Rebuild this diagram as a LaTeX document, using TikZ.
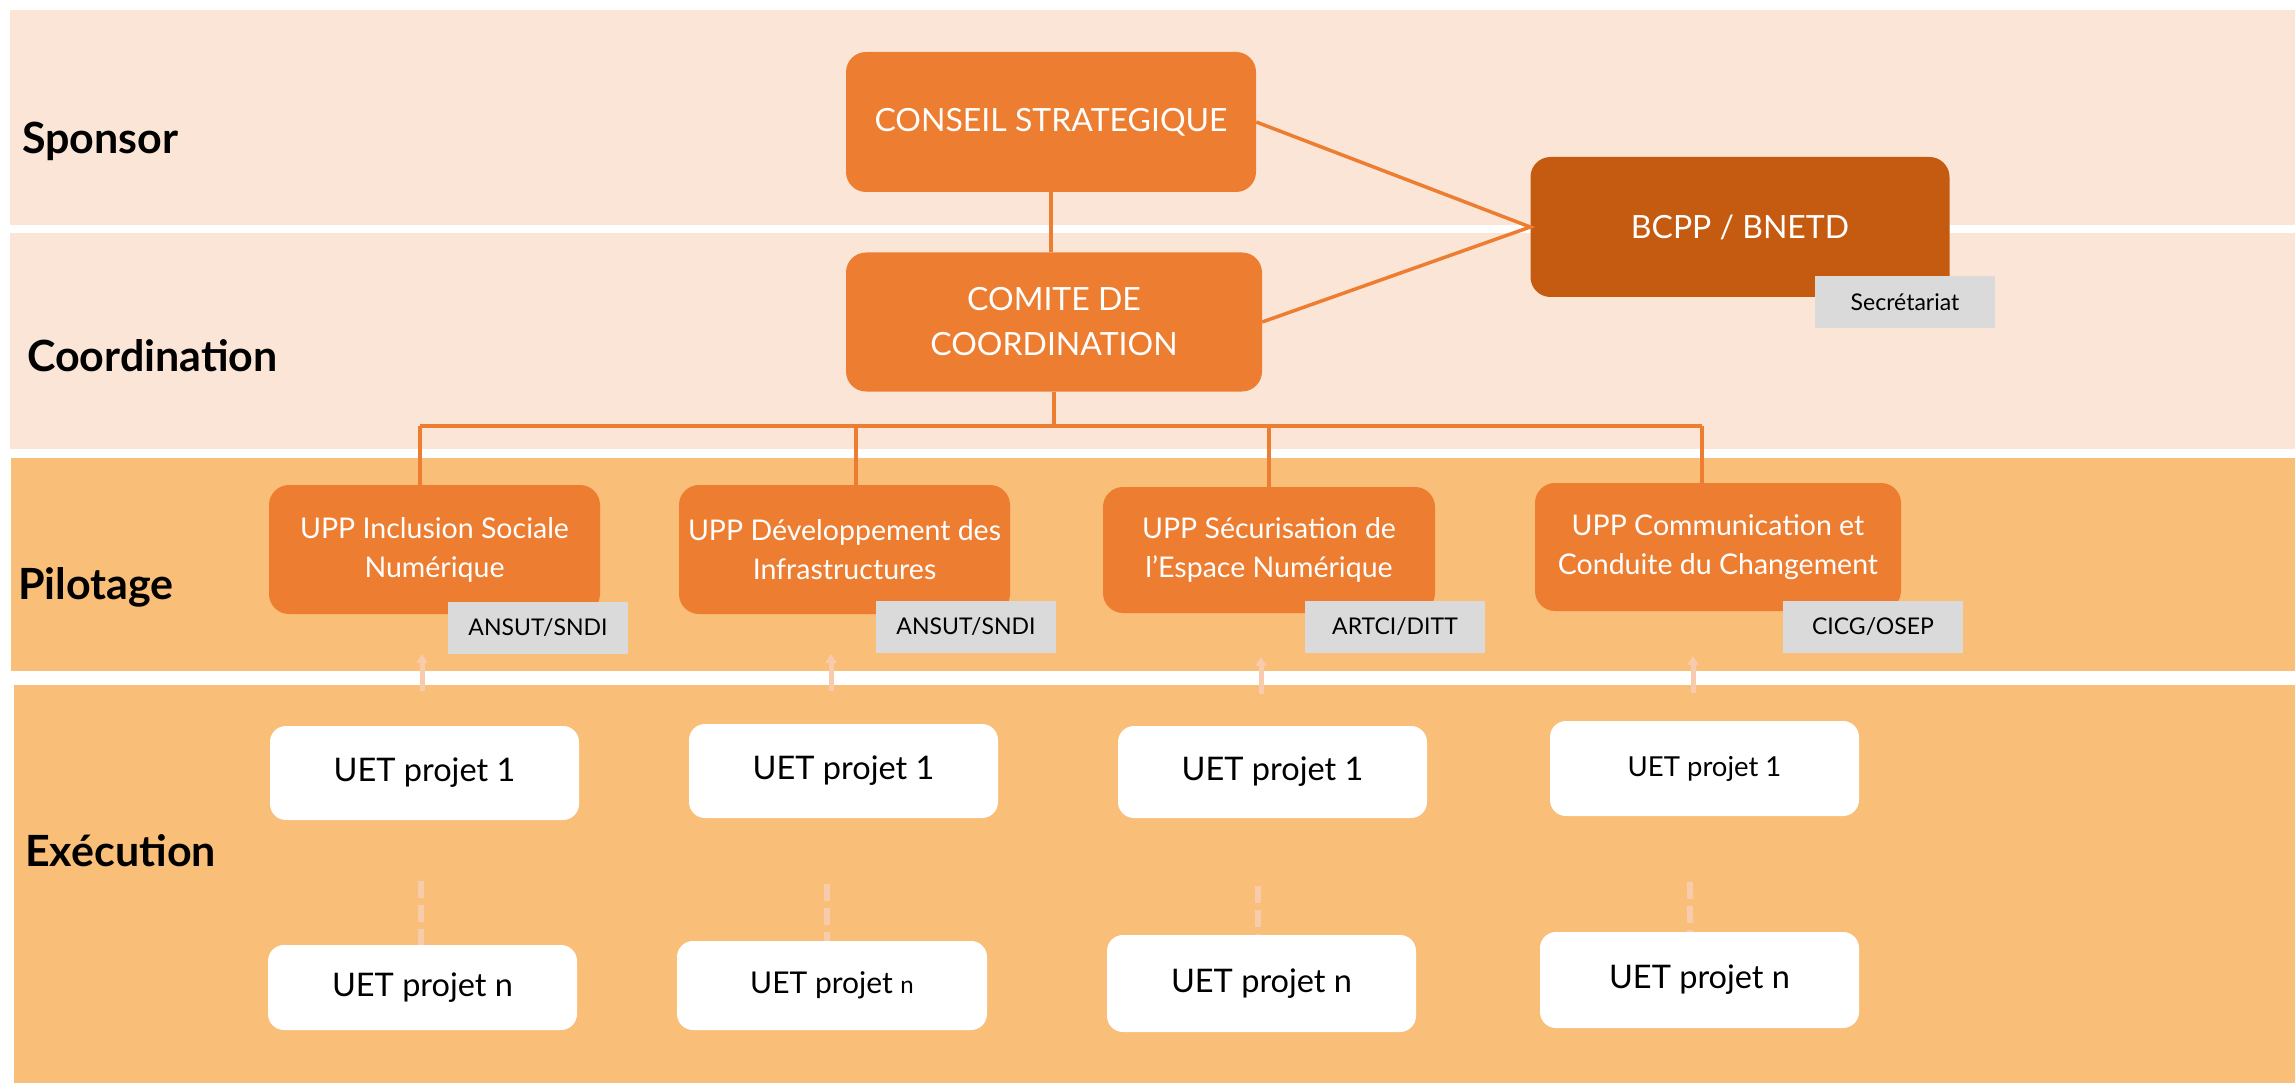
\documentclass[tikz,border=0pt]{standalone}
\usepackage{fontspec}
\setmainfont{Lato}
\usetikzlibrary{arrows.meta}
\definecolor{bandA}{HTML}{FBE5D6}
\definecolor{bandB}{HTML}{F9BE78}
\definecolor{org}{HTML}{ED7D31}
\definecolor{dorg}{HTML}{C55A11}
\definecolor{tagc}{HTML}{DADADA}
\definecolor{pale}{HTML}{F8CBAD}
\newcommand{\fs}[2]{\fontsize{#1}{#2}\selectfont}
\begin{document}
\begin{tikzpicture}[x=1pt,y=-1pt,
  sz/.style 2 args={minimum width=#1pt,minimum height=#2pt},
  obox/.style={fill=org, rounded corners=20pt, text=white, align=center, inner sep=0pt},
  dbox/.style={fill=dorg, rounded corners=20pt, text=white, align=center, inner sep=0pt},
  wbox/.style={fill=white, rounded corners=16pt, text=black, align=center, inner sep=0pt},
  tagbox/.style={fill=tagc, text=black, inner sep=0pt, minimum width=180pt, minimum height=52pt, font=\fs{23}{28}},
  lvl/.style={anchor=base west, inner sep=0pt, font=\bfseries\fs{43}{50}},
  link/.style={draw=org, line width=3.5pt},
  uparr/.style={draw=pale, line width=5pt, -{Triangle[length=9pt,width=11pt]}},
  dashln/.style={draw=pale, line width=6pt, dash pattern=on 17pt off 7pt}
]
\useasboundingbox (0,0) rectangle (2295,1083);
\fill[white] (0,0) rectangle (2295,1083);
% bands
\fill[bandA] (10,10) rectangle (2295,225);
\fill[bandA] (10,233) rectangle (2295,449);
\fill[bandB] (11,458) rectangle (2295,671);
\fill[bandB] (14,685) rectangle (2295,1083);
% level labels
\node[lvl] (lsp) at (22,154) {Sponsor};
\node[lvl] (lco) at (27,371) {Coordination};
\node[lvl] (lpi) at (18,599) {Pilotage};
\node[lvl] (lex) at (25,866) {Exécution};
% top nodes
\node[obox, sz={410}{140}, font=\fs{32}{45}] (conseil) at (1051,122) {CONSEIL STRATEGIQUE};
\node[obox, sz={416}{139}, font=\fs{32}{45}] (comite) at (1054,322) {COMITE DE\\COORDINATION};
\node[dbox, sz={419}{140}, font=\fs{32}{45}] (bcpp) at (1740,227) {BCPP / BNETD};
\node[tagbox] (secr) at (1905,302) {Secrétariat};
% connectors top
\draw[link] (conseil.south) -- (conseil.south |- comite.north);
\draw[link] (conseil.east) -- (bcpp.west) -- (comite.east);
% UPP nodes
\node[obox, sz={331}{129}, font=\fs{28.5}{39}] (upp1) at (434.5,549.5) {UPP Inclusion Sociale\\Numérique};
\node[obox, sz={331}{129}, font=\fs{28.5}{39}] (upp2) at (844.5,549.5) {UPP Développement des\\Infrastructures};
\node[obox, sz={332}{126}, font=\fs{28.5}{39}] (upp3) at (1269,550) {UPP Sécurisation de\\l’Espace Numérique};
\node[obox, sz={366}{128}, font=\fs{28.5}{39}] (upp4) at (1718,547) {UPP Communication et\\Conduite du Changement};
\node[tagbox] (t1) at (538,628) {ANSUT/SNDI};
\node[tagbox] (t2) at (966,627) {ANSUT/SNDI};
\node[tagbox] (t3) at (1395,627) {ARTCI/DITT};
\node[tagbox] (t4) at (1873,627) {CICG/OSEP};
% bus
\coordinate (b1) at (420,426);
\coordinate (b2) at (856,426);
\coordinate (b3) at (1269,426);
\coordinate (b4) at (1702,426);
\draw[link] (comite.south) -- (comite.south |- b1);
\draw[link] (b1) -- (b4);
\draw[link] (b1) -- (b1 |- upp1.north);
\draw[link] (b2) -- (b2 |- upp2.north);
\draw[link] (b3) -- (b3 |- upp3.north);
\draw[link] (b4) -- (b4 |- upp4.north);
% UET nodes
\node[wbox, sz={309}{94}, font=\fs{32.5}{38}] (u11) at (424.5,773) {UET projet 1};
\node[wbox, sz={309}{94}, font=\fs{32.5}{38}] (u12) at (843.5,771) {UET projet 1};
\node[wbox, sz={309}{92}, font=\fs{32.5}{38}] (u13) at (1272.5,772) {UET projet 1};
\node[wbox, sz={309}{95}, font=\fs{27.5}{33}] (u14) at (1704.5,768.5) {UET projet 1};
\node[wbox, sz={309}{85}, font=\fs{32.5}{38}] (un1) at (422.5,987.5) {UET projet n};
\node[wbox, sz={310}{89}, font=\fs{30}{36}] (un2) at (832,985.5) {UET projet {\fs{24}{28}n}};
\node[wbox, sz={309}{97}, font=\fs{32.5}{38}] (un3) at (1261.5,983.5) {UET projet n};
\node[wbox, sz={319}{96}, font=\fs{32.5}{38}] (un4) at (1699.5,980) {UET projet n};
% up arrows
\coordinate (a1) at (422,691);
\coordinate (a2) at (831,691);
\coordinate (a3) at (1261,694);
\coordinate (a4) at (1693,693);
\draw[uparr] (a1) -- ++(0,-37);
\draw[uparr] (a2) -- ++(0,-37);
\draw[uparr] (a3) -- ++(0,-37);
\draw[uparr] (a4) -- ++(0,-37);
% dashed lines
\coordinate (d1) at (421,881);
\coordinate (d2) at (827,884);
\coordinate (d3) at (1258,886);
\coordinate (d4) at (1690,882);
\draw[dashln] (d1) -- (d1 |- un1.north);
\draw[dashln] (d2) -- (d2 |- un2.north);
\draw[dashln] (d3) -- (d3 |- un3.north);
\draw[dashln] (d4) -- (d4 |- un4.north);
\end{tikzpicture}
\end{document}
